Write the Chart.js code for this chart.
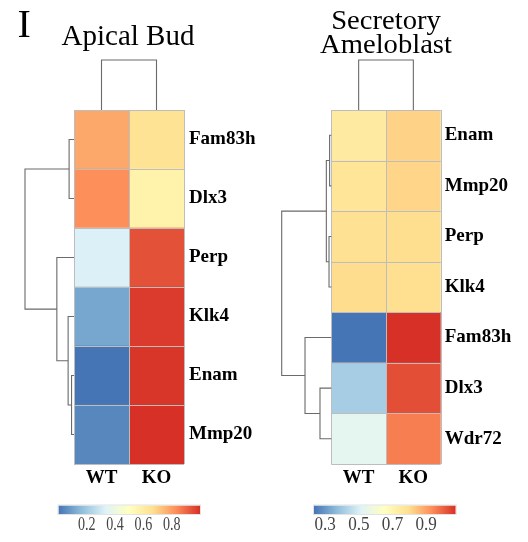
<!DOCTYPE html>
<html><head><meta charset="utf-8">
<script src="https://cdn.jsdelivr.net/npm/chart.js@4.4.1/dist/chart.umd.min.js"></script>
<style>
html,body{margin:0;padding:0;background:#fff}
body{width:528px;height:542px;position:relative;overflow:hidden;font-family:'Liberation Serif','Times New Roman',serif}
canvas{position:absolute;top:0}
.t{position:absolute;white-space:nowrap;color:#000;text-align:center}
</style></head>
<body>
<canvas id="c1" width="264" height="542" style="left:0px"></canvas>
<canvas id="c2" width="264" height="542" style="left:264px"></canvas>
<div class="t" style="left:17.5px;top:3.5px;font-size:40px;line-height:40px;text-align:left">I</div>
<div class="t" style="left:28px;top:20.7px;width:200px;font-size:29px;line-height:29px">Apical Bud</div>
<div class="t" style="left:285.5px;top:8.2px;width:200px;font-size:27px;line-height:24px;transform:scaleX(1.06)">Secretory<br>Ameloblast</div>
<script>
// ---------- DATA ----------
const conditions = ['WT', 'KO'];

const budGenes = ['Fam83h', 'Dlx3', 'Perp', 'Klk4', 'Enam', 'Mmp20'];
const budWT    = [0.78, 0.83, 0.325, 0.11, 0.00, 0.04];
const budKO    = [0.65, 0.57, 0.94, 0.98, 0.99, 1.00];
const budTicks = [0.2, 0.4, 0.6, 0.8];
// row dendrogram: [left, right, height]
const budRowTree = [['Fam83h', 'Dlx3', 0.10], ['Perp', ['Klk4', ['Enam', 'Mmp20', 0.05], 0.12], 0.35], 1.0];

const ameloGenes = ['Enam', 'Mmp20', 'Perp', 'Klk4', 'Fam83h', 'Dlx3', 'Wdr72'];
const ameloWT    = [0.745, 0.772, 0.790, 0.800, 0.234, 0.412, 0.537];
const ameloKO    = [0.817, 0.813, 0.797, 0.795, 1.075, 1.030, 0.958];
const ameloTicks = [0.3, 0.5, 0.7, 0.9];
const ameloRowTree = [[['Enam', 'Mmp20', 0.034], ['Perp', 'Klk4', 0.046], 0.10], ['Fam83h', ['Dlx3', 'Wdr72', 0.228], 0.53], 1.0];

const colTree = ['WT', 'KO', 1.0];

// ---------- STYLE ----------
const PALETTE = ['#4575B4', '#91BFDB', '#E0F3F8', '#FFFFBF', '#FEE090', '#FC8D59', '#D73027'];
const SERIF = "'Liberation Serif', 'Times New Roman', serif";

function hexToRgb(h) { return [1, 3, 5].map(i => parseInt(h.substr(i, 2), 16)); }
function colorFor(v, lo, hi) {
  let t = (v - lo) / (hi - lo); t = Math.max(0, Math.min(1, t));
  const pos = t * (PALETTE.length - 1);
  const i = Math.min(PALETTE.length - 2, Math.floor(pos));
  const f = pos - i;
  const a = hexToRgb(PALETTE[i]), b = hexToRgb(PALETTE[i + 1]);
  const c = a.map((x, k) => Math.round(x + (b[k] - x) * f));
  return `rgb(${c[0]},${c[1]},${c[2]})`;
}

function makeHeatmap(canvasId, genes, wt, ko, rowTree, ticks, geom) {
  const all = wt.concat(ko);
  const lo = Math.min(...all), hi = Math.max(...all);
  const series = [wt, ko];

  const plugin = {
    id: 'heatExtras',
    afterDatasetsDraw(chart) {
      const { ctx, chartArea: a, scales: { x, y } } = chart;
      ctx.save();
      // cell grid
      ctx.strokeStyle = '#bdbdbd';
      ctx.lineWidth = 1;
      ctx.beginPath();
      for (let i = 0; i <= genes.length; i++) {
        const yy = Math.round(y.getPixelForValue(i - 0.5)) + 0.5;
        ctx.moveTo(a.left, yy); ctx.lineTo(a.right, yy);
      }
      for (let j = 0; j <= conditions.length; j++) {
        const xx = Math.round(x.getPixelForValue(j)) + 0.5;
        ctx.moveTo(xx, a.top); ctx.lineTo(xx, a.bottom);
      }
      ctx.stroke();

      // dendrograms
      ctx.strokeStyle = '#6a6a6a';
      ctx.lineWidth = 1.1;
      const rowK = geom.rowDendro / rowTree[2];
      function drawRow(node) {
        if (typeof node === 'string') return { p: y.getPixelForValue(genes.indexOf(node)), h: 0 };
        const A = drawRow(node[0]), B = drawRow(node[1]);
        const xh = a.left - node[2] * rowK;
        ctx.beginPath();
        ctx.moveTo(a.left - A.h * rowK, A.p); ctx.lineTo(xh, A.p);
        ctx.lineTo(xh, B.p); ctx.lineTo(a.left - B.h * rowK, B.p);
        ctx.stroke();
        return { p: (A.p + B.p) / 2, h: node[2] };
      }
      drawRow(rowTree);
      const colK = geom.colDendro / colTree[2];
      function drawCol(node) {
        if (typeof node === 'string') return { p: x.getPixelForValue(conditions.indexOf(node) + 0.5), h: 0 };
        const A = drawCol(node[0]), B = drawCol(node[1]);
        const yh = a.top - node[2] * colK;
        ctx.beginPath();
        ctx.moveTo(A.p, a.top - A.h * colK); ctx.lineTo(A.p, yh);
        ctx.lineTo(B.p, yh); ctx.lineTo(B.p, a.top - B.h * colK);
        ctx.stroke();
        return { p: (A.p + B.p) / 2, h: node[2] };
      }
      drawCol(colTree);

      // colour key
      const cb = geom.bar;
      const g = ctx.createLinearGradient(cb.x0, 0, cb.x1, 0);
      PALETTE.forEach((c, i) => g.addColorStop(i / (PALETTE.length - 1), c));
      ctx.fillStyle = g;
      ctx.fillRect(cb.x0, cb.y0, cb.x1 - cb.x0, cb.y1 - cb.y0);
      ctx.strokeStyle = '#e2e2e2';
      ctx.lineWidth = 1;
      ctx.strokeRect(cb.x0 - 0.5, cb.y0 - 0.5, cb.x1 - cb.x0 + 1, cb.y1 - cb.y0 + 1);
      ctx.fillStyle = '#444';
      ctx.font = `19px ${SERIF}`;
      ctx.textAlign = 'center';
      ctx.textBaseline = 'middle';
      ticks.forEach(v => {
        const px = cb.x0 + (v - lo) / (hi - lo) * (cb.x1 - cb.x0);
        ctx.save();
        ctx.translate(px, cb.ty);
        ctx.scale(cb.sx, 1);
        ctx.fillText(v.toFixed(1), 0, 0);
        ctx.restore();
      });
      ctx.restore();
    }
  };

  return new Chart(document.getElementById(canvasId), {
    type: 'bar',
    data: {
      labels: genes,
      datasets: conditions.map((c, k) => ({
        label: c,
        data: genes.map(() => 1),
        backgroundColor: series[k].map(v => colorFor(v, lo, hi)),
        borderWidth: 0,
        categoryPercentage: 1,
        barPercentage: 1
      }))
    },
    options: {
      indexAxis: 'y',
      responsive: false,
      animation: false,
      events: [],
      layout: { padding: { left: geom.left, top: geom.top, right: 0, bottom: 0 } },
      plugins: { legend: { display: false }, tooltip: { enabled: false }, title: { display: false } },
      scales: {
        x: {
          type: 'linear', stacked: true, min: 0, max: conditions.length, position: 'bottom',
          grid: { display: false, drawTicks: false }, border: { display: false },
          afterBuildTicks: s => { s.ticks = conditions.map((c, i) => ({ value: i + 0.5 })); },
          afterFit: s => { s.height = geom.xAxisH; },
          ticks: {
            autoSkip: false, maxRotation: 0, padding: 3, color: '#000',
            font: { family: SERIF, size: 19, weight: 'bold' },
            callback: v => conditions[Math.floor(v)]
          }
        },
        y: {
          type: 'category', stacked: true, position: 'right',
          grid: { display: false, drawTicks: false }, border: { display: false },
          afterFit: s => { s.width = geom.yAxisW; },
          ticks: { padding: geom.yPad, color: '#000', autoSkip: false, font: { family: SERIF, size: 19, weight: 'bold' } }
        }
      }
    },
    plugins: [plugin]
  });
}

makeHeatmap('c1', budGenes, budWT, budKO, budRowTree, budTicks, {
  left: 74, top: 110, yAxisW: 80, xAxisH: 78, yPad: 5,
  rowDendro: 49, colDendro: 50,
  bar: { x0: 58.5, x1: 200, y0: 505.5, y1: 514, ty: 525, sx: 0.74 }
});
makeHeatmap('c2', ameloGenes, ameloWT, ameloKO, ameloRowTree, ameloTicks, {
  left: 67.3, top: 110, yAxisW: 87.3, xAxisH: 78, yPad: 4,
  rowDendro: 49.6, colDendro: 50,
  bar: { x0: 50, x1: 191.7, y0: 505.5, y1: 514, ty: 525, sx: 0.9 }
});
</script>
</body></html>
